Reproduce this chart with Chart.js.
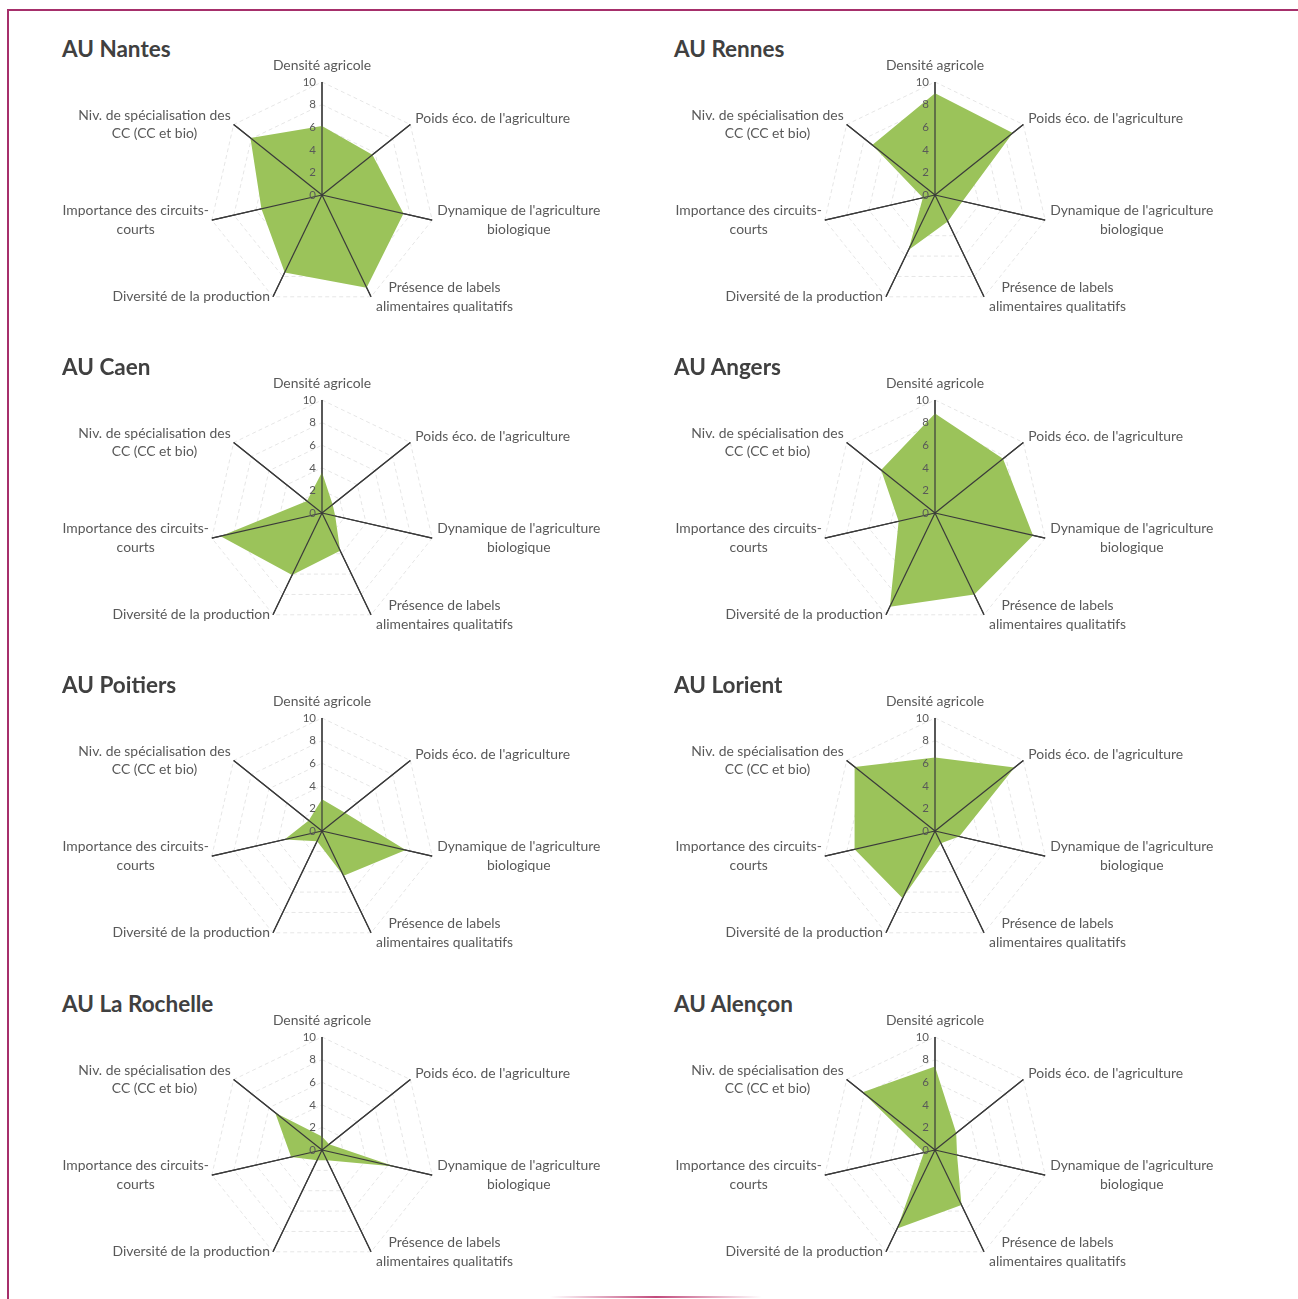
<!DOCTYPE html>
<html>
<head>
<meta charset="utf-8">
<script src="https://cdn.jsdelivr.net/npm/chart.js@4/dist/chart.umd.min.js"></script>
<style>
  body { margin: 0; background: #ffffff; width: 1298px; height: 1299px; position: relative; overflow: hidden; }
  .frame { position: absolute; left: 7px; top: 9px; width: 1300px; height: 1300px;
           border-top: 2px solid #a62f6b; border-left: 2px solid #a62f6b; }
  .foot { position: absolute; left: 550px; top: 1296px; width: 212px; height: 2px;
          background: linear-gradient(to right, rgba(200,80,120,0), #c24a7c 50%, rgba(200,80,120,0)); }
  .title { position: absolute; font-family: Lato, sans-serif; font-weight: bold; font-size: 22.5px;
           line-height: 26px; color: #404040; white-space: nowrap; }
  canvas { position: absolute; }
</style>
</head>
<body>
<div class="frame"></div>
<div class="foot"></div>
<script>
// axes du radar
var axisLabels = [
  'Densité agricole',
  "Poids éco. de l'agriculture",
  ["Dynamique de l'agriculture", 'biologique'],
  ['Présence de labels', 'alimentaires qualitatifs'],
  'Diversité de la production',
  ['Importance des circuits-', 'courts'],
  ['Niv. de spécialisation des', 'CC (CC et bio)']
];
var scaleMin = 0;
var scaleMax = 10;
var scaleStep = 2;

// titres des aires urbaines
var cityNames = ['AU Nantes', 'AU Rennes', 'AU Caen', 'AU Angers',
                 'AU Poitiers', 'AU Lorient', 'AU La Rochelle', 'AU Alençon'];

// valeurs (ordre des axes ci-dessus)
var nantes     = [6.1, 5.7, 7.4, 9.1, 7.6, 5.5, 8.1];
var rennes     = [9.0, 8.8, 2.5, 2.6, 5.4, 1.1, 7.1];
var caen       = [3.6, 1.2, 1.2, 3.7, 6.1, 9.2, 1.7];
var angers     = [8.8, 7.7, 8.9, 8.0, 9.2, 3.3, 6.1];
var poitiers   = [2.8, 2.6, 7.6, 4.4, 1.0, 3.4, 1.5];
var lorient    = [6.5, 9.0, 2.2, 1.2, 6.6, 7.3, 9.1];
var larochelle = [1.2, 0.8, 6.6, 1.0, 1.0, 2.8, 5.3];
var alencon    = [7.4, 2.4, 2.0, 5.4, 7.7, 1.0, 8.2];

var cityValues = [nantes, rennes, caen, angers, poitiers, lorient, larochelle, alencon];

var fillColor = '#9bc35a';
var textColor = '#595959';
var axisColor = '#3a3a3a';

// rayons redessinés par-dessus la surface, puis textes façon Excel
var axisText = {
  id: 'axisText',
  afterDatasetsDraw: function(chart) {
    var scale = chart.scales.r;
    var ctx = chart.ctx;
    ctx.save();
    ctx.strokeStyle = axisColor;
    ctx.lineWidth = 1.2;
    for (var i = 0; i < chart.data.labels.length; i++) {
      var p = scale.getPointPosition(i, scale.getDistanceFromCenterForValue(scale.max));
      ctx.beginPath();
      ctx.moveTo(scale.xCenter, scale.yCenter);
      ctx.lineTo(p.x, p.y);
      ctx.stroke();
    }
    ctx.restore();
  },
  afterDraw: function(chart) {
    var scale = chart.scales.r;
    var ctx = chart.ctx;
    ctx.save();
    ctx.fillStyle = textColor;

    ctx.font = '11.5px Lato, sans-serif';
    ctx.textAlign = 'right';
    ctx.textBaseline = 'middle';
    scale.ticks.forEach(function(t) {
      var d = scale.getDistanceFromCenterForValue(t.value);
      ctx.fillText(t.label, scale.xCenter - 6, scale.yCenter - d);
    });

    ctx.font = '13.9px Lato, sans-serif';
    ctx.textAlign = 'center';
    var lineH = 18.5;
    chart.data.labels.forEach(function(lab, i) {
      var lines = Array.isArray(lab) ? lab : [lab];
      var p = scale.getPointPosition(i, scale.drawingArea);
      var dx = Math.cos(p.angle), dy = Math.sin(p.angle);
      var w = 0;
      lines.forEach(function(s) { w = Math.max(w, ctx.measureText(s).width); });
      var h = lines.length * lineH;
      var cx, cy;
      if (Math.abs(dx) < 0.05) {
        cx = p.x;
        cy = p.y - 7 - h / 2;
      } else {
        cx = dx > 0 ? p.x + 5 + w / 2 : p.x - 3 - w / 2;
        cy = p.y;
        if (lines.length === 1 && dy < 0) cy -= 6;
      }
      lines.forEach(function(s, k) {
        ctx.fillText(s, cx, cy - h / 2 + lineH * (k + 0.5));
      });
    });
    ctx.restore();
  }
};

function makeRadar(idx) {
  var col = idx % 2;
  var row = Math.floor(idx / 2);
  var centerX = col === 0 ? 322 : 935;
  var centerY = [195, 513, 831, 1150][row];

  var title = document.createElement('div');
  title.className = 'title';
  title.style.left = (col === 0 ? 62 : 674) + 'px';
  title.style.top = (centerY - 159) + 'px';
  title.innerText = cityNames[idx];
  document.body.appendChild(title);

  var canvas = document.createElement('canvas');
  canvas.width = 613;
  canvas.height = 318;
  canvas.style.left = (centerX - 306) + 'px';
  canvas.style.top = (centerY - 159) + 'px';
  document.body.appendChild(canvas);

  new Chart(canvas.getContext('2d'), {
    type: 'radar',
    data: {
      labels: axisLabels,
      datasets: [{
        data: cityValues[idx],
        backgroundColor: fillColor,
        borderWidth: 0,
        pointRadius: 0,
        fill: true
      }]
    },
    options: {
      responsive: false,
      animation: false,
      layout: { padding: { top: 46, bottom: 46, left: 0, right: 0 } },
      plugins: { legend: { display: false }, tooltip: { enabled: false } },
      scales: {
        r: {
          min: scaleMin,
          max: scaleMax,
          ticks: { stepSize: scaleStep, display: false },
          pointLabels: { display: false },
          grid: { color: '#e6e6e6', lineWidth: 1 },
          border: { dash: [4, 3] },
          angleLines: { color: axisColor, lineWidth: 1.2 }
        }
      }
    },
    plugins: [axisText]
  });
}

for (var i = 0; i < cityNames.length; i++) {
  makeRadar(i);
}
</script>
</body>
</html>
